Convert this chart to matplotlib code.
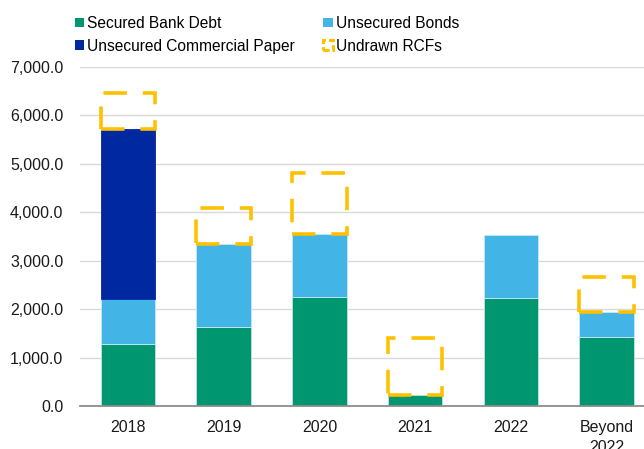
import numpy as np
import matplotlib
matplotlib.use("Agg")
from matplotlib import pyplot as plt
from matplotlib.patches import Patch
from matplotlib.ticker import FuncFormatter

# data
years = ["2018", "2019", "2020", "2021", "2022", "Beyond\n2022"]
secured_bank = [1290, 1625, 2245, 220, 2225, 1430]
unsecured_bonds = [910, 1720, 1305, 0, 1305, 510]
commercial_paper = [3530, 0, 0, 0, 0, 0]
undrawn_rcf = [740, 750, 1260, 1180, 0, 730]

c_green = "#00966F"
c_light = "#42B4E6"
c_dark = "#0028A0"
c_yellow = "#FFC000"

plt.rcParams['font.family'] = ['Liberation Sans', 'DejaVu Sans']

fig = plt.figure(figsize=(6.44, 4.49), dpi=100)
ax = fig.add_axes([80 / 644, 43 / 449, 1 - 80 / 644, 339 / 449])

x = np.arange(len(years))
w = 0.57
secured_bank = np.array(secured_bank, dtype=float)
unsecured_bonds = np.array(unsecured_bonds, dtype=float)
commercial_paper = np.array(commercial_paper, dtype=float)
undrawn_rcf = np.array(undrawn_rcf, dtype=float)

# only draw segments that exist, so empty ones leave no edge line
m = secured_bank > 0
ax.bar(x[m], secured_bank[m], w, color=c_green, edgecolor="#BFE5D9", linewidth=0.6, zorder=3)
m = unsecured_bonds > 0
ax.bar(x[m], unsecured_bonds[m], w, bottom=secured_bank[m], color=c_light,
       edgecolor="#C6E9F8", linewidth=0.6, zorder=3)
m = commercial_paper > 0
ax.bar(x[m], commercial_paper[m], w, bottom=(secured_bank + unsecured_bonds)[m], color=c_dark,
       edgecolor=c_dark, linewidth=0.6, zorder=3)

# undrawn RCFs as dashed boxes on top of the drawn debt
total = secured_bank + unsecured_bonds + commercial_paper
m = undrawn_rcf > 0
ax.bar(x[m], undrawn_rcf[m], w, bottom=total[m], fill=False,
       edgecolor=c_yellow, linewidth=2.6, linestyle=(0, (6.5, 4.4)), zorder=4)

ax.set_xlim(-0.5, 5.39)
ax.set_ylim(0, 7000)
ax.set_yticks(np.arange(0, 7001, 1000))
ax.yaxis.set_major_formatter(FuncFormatter(lambda v, p: "{:,.1f}".format(v)))
ax.set_xticks(x)
ax.set_xticklabels(years, linespacing=1.45)
ax.tick_params(axis="both", length=0, labelsize=11.5, colors="#1a1a1a")
ax.tick_params(axis="y", pad=12)
ax.tick_params(axis="x", pad=10)

ax.grid(axis="y", color="#D9D9D9", linewidth=1, zorder=0)
ax.set_axisbelow(True)
for s in ["top", "right", "left"]:
    ax.spines[s].set_visible(False)
ax.spines["bottom"].set_color("#8C8C8C")
ax.spines["bottom"].set_linewidth(1.3)
ax.spines["bottom"].set_zorder(5)

handles = [
    Patch(facecolor=c_green, label="Secured Bank Debt"),
    Patch(facecolor=c_dark, label="Unsecured Commercial Paper"),
    Patch(facecolor=c_light, label="Unsecured Bonds"),
    Patch(facecolor="none", edgecolor=c_yellow, linewidth=2.2, linestyle=(0, (2, 1)),
          label="Undrawn RCFs"),
]
fig.legend(handles=handles, ncol=2, loc="upper left", bbox_to_anchor=(61 / 644, 1 - 2 / 449),
           frameon=False, handlelength=0.6, handleheight=0.6, handletextpad=0.2,
           columnspacing=1.8, labelspacing=0.5, fontsize=11.2)

fig.savefig("out.png", dpi=100)
